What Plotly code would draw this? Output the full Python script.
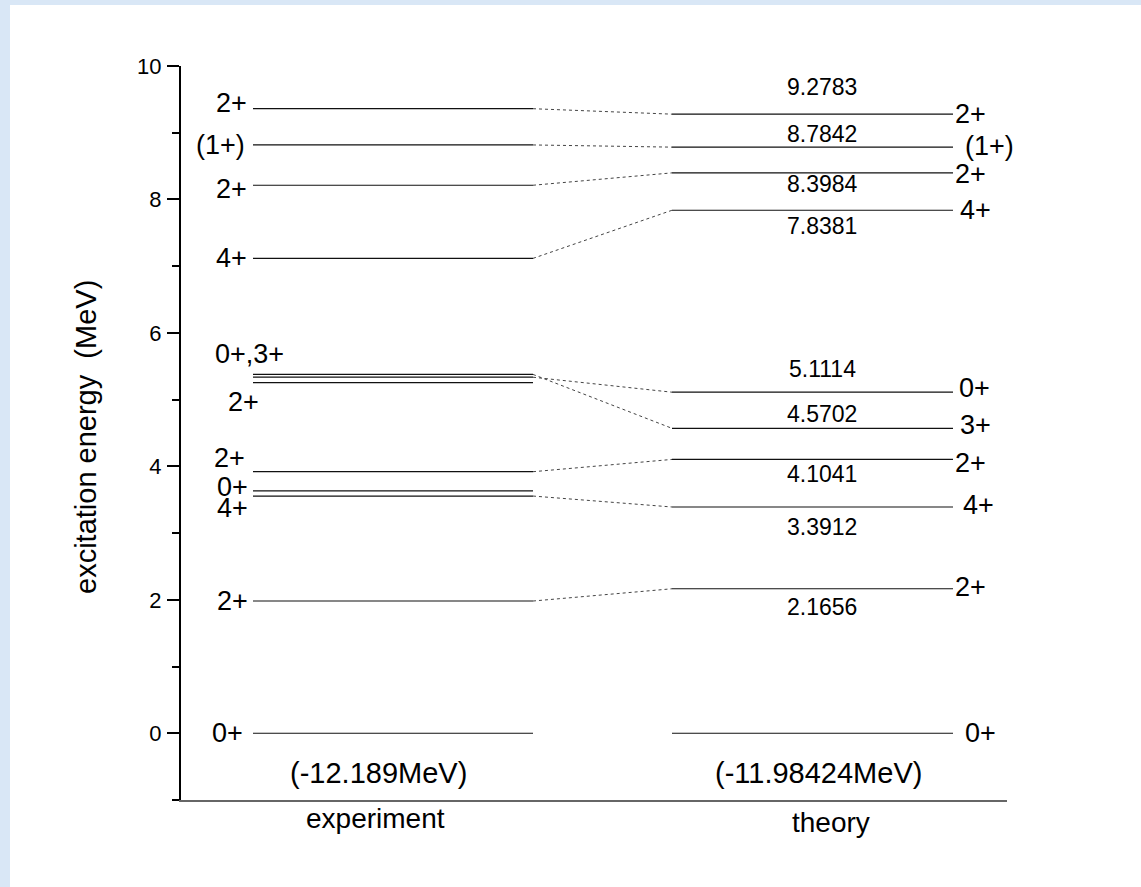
import plotly.graph_objects as go

# ---------------- data ----------------
exp_energies = [0.0, 1.982, 3.555, 3.634, 3.920, 5.255, 5.336, 5.378, 7.117, 8.213, 8.817, 9.360]
exp_spins    = ["0+", "2+", "4+", "0+", "2+", "2+", "", "0+,3+", "4+", "2+", "(1+)", "2+"]

th_energies = [0.0, 2.1656, 3.3912, 4.1041, 4.5702, 5.1114, 7.8381, 8.3984, 8.7842, 9.2783]
th_spins    = ["0+", "2+", "4+", "2+", "3+", "0+", "4+", "2+", "(1+)", "2+"]
th_values   = ["", "2.1656", "3.3912", "4.1041", "4.5702", "5.1114", "7.8381", "8.3984", "8.7842", "9.2783"]

# connections: (experiment energy, theory energy)
conn_exp = [1.982, 3.555, 3.920, 5.378, 5.336, 7.117, 8.213, 8.817, 9.360]
conn_th  = [2.1656, 3.3912, 4.1041, 4.5702, 5.1114, 7.8381, 8.3984, 8.7842, 9.2783]

exp_ground = "(-12.189MeV)"
th_ground = "(-11.98424MeV)"
col_names = ["experiment", "theory"]
y_ticks = [0, 2, 4, 6, 8, 10]
y_title = "excitation energy  (MeV)"

# ---------------- layout constants (horizontal units = px inside plot) ----------------
EXP_X = (72, 352)
TH_X = (491, 772)
FONT = "Liberation Sans, Arial, sans-serif"
SPIN_SIZE = 27
VALUE_SIZE = 23

# label offsets (pixels, positive = up)
exp_label_shift = [0, 0, -12, 4, 14, -19, 0, 20, 0, -4, 0, 6]
exp_label_x = [64, 69, 69, 69, 66, 80, 0, 32, 68, 68, 66, 68]
exp_label_anchor = ["right"] * 12
exp_label_anchor[7] = "left"
th_label_shift = [0, 2, 2, -4, 3, 4, 0, -1, 1, 0]
th_label_x = [782, 772, 780, 772, 777, 776, 777, 772, 782, 772]
th_value_shift = [0, -18, -20, -15, 14, 23, -16, -11, 13, 27]

fig = go.Figure()

for e in exp_energies:
    fig.add_trace(go.Scatter(x=list(EXP_X), y=[e, e], mode="lines",
                             line=dict(color="#111111", width=1.2),
                             hoverinfo="skip", showlegend=False))
for e in th_energies:
    fig.add_trace(go.Scatter(x=list(TH_X), y=[e, e], mode="lines",
                             line=dict(color="#111111", width=1.2),
                             hoverinfo="skip", showlegend=False))
for a, b in zip(conn_exp, conn_th):
    fig.add_trace(go.Scatter(x=[EXP_X[1], TH_X[0]], y=[a, b], mode="lines",
                             line=dict(color="#444444", width=1, dash="dot"),
                             hoverinfo="skip", showlegend=False))

ann = []
for e, s, sh, xx, anc in zip(exp_energies, exp_spins, exp_label_shift, exp_label_x, exp_label_anchor):
    if not s:
        continue
    ann.append(dict(x=xx, y=e, xref="x", yref="y", text=s, showarrow=False,
                    xanchor=anc, yanchor="middle", yshift=sh,
                    font=dict(size=SPIN_SIZE, color="black", family=FONT)))
for e, s, sh, xx in zip(th_energies, th_spins, th_label_shift, th_label_x):
    ann.append(dict(x=xx, y=e, xref="x", yref="y", text=s, showarrow=False,
                    xanchor="left", yanchor="middle", yshift=sh,
                    font=dict(size=SPIN_SIZE, color="black", family=FONT)))
for e, v, sh in zip(th_energies, th_values, th_value_shift):
    if not v:
        continue
    ann.append(dict(x=641, y=e, xref="x", yref="y", text=v, showarrow=False,
                    xanchor="center", yanchor="middle", yshift=sh,
                    font=dict(size=VALUE_SIZE, color="black", family=FONT)))

ann.append(dict(x=197, y=0, xref="x", yref="y", text=exp_ground, showarrow=False,
                xanchor="center", yanchor="middle", yshift=-40,
                font=dict(size=29, color="black", family=FONT)))
ann.append(dict(x=637, y=0, xref="x", yref="y", text=th_ground, showarrow=False,
                xanchor="center", yanchor="middle", yshift=-40,
                font=dict(size=29, color="black", family=FONT)))
ann.append(dict(x=194, y=-1, xref="x", yref="y", text=col_names[0], showarrow=False,
                xanchor="center", yanchor="middle", yshift=-18,
                font=dict(size=28, color="black", family=FONT)))
ann.append(dict(x=650, y=-1, xref="x", yref="y", text=col_names[1], showarrow=False,
                xanchor="center", yanchor="middle", yshift=-22,
                font=dict(size=28, color="black", family=FONT)))

W, H = 1141, 887
L, R, T, B = 181, 134, 66, 87
pw, ph = W - L - R, H - T - B

# axis title as rotated annotation
ann.append(dict(x=(86 - L) / pw, y=(H - B - 437) / ph, xref="paper", yref="paper",
                text=y_title, textangle=-90, showarrow=False,
                xanchor="center", yanchor="middle",
                font=dict(size=29, color="black", family=FONT)))

shapes = [dict(type="rect", xref="paper", yref="paper",
               x0=(10 - L) / pw, x1=(W - L + 5) / pw,
               y0=-(B + 5) / ph, y1=(H - 5 - B) / ph,
               fillcolor="white", line=dict(width=0), layer="below")]

fig.update_layout(
    width=W, height=H,
    margin=dict(l=L, r=R, t=T, b=B, pad=0),
    paper_bgcolor="#d9e7f6",
    plot_bgcolor="rgba(0,0,0,0)",
    shapes=shapes,
    annotations=ann,
    font=dict(family=FONT, color="black"),
    xaxis=dict(range=[0, pw], showgrid=False, zeroline=False,
               showticklabels=False, ticks="", showline=True,
               linecolor="#666666", linewidth=1.5, fixedrange=True),
    yaxis=dict(range=[-1, 10], showgrid=False, zeroline=False,
               tickvals=y_ticks, ticktext=[str(t) for t in y_ticks],
               ticks="outside", ticklen=12, tickwidth=2, tickcolor="black",
               showline=True, linecolor="black", linewidth=2,
               tickfont=dict(size=22, family=FONT, color="black"),
               ticklabelstandoff=1,
               minor=dict(dtick=1, tick0=1, ticks="outside", ticklen=7,
                          tickwidth=2, tickcolor="black"),
               fixedrange=True),
)

fig.write_html("out.html")
